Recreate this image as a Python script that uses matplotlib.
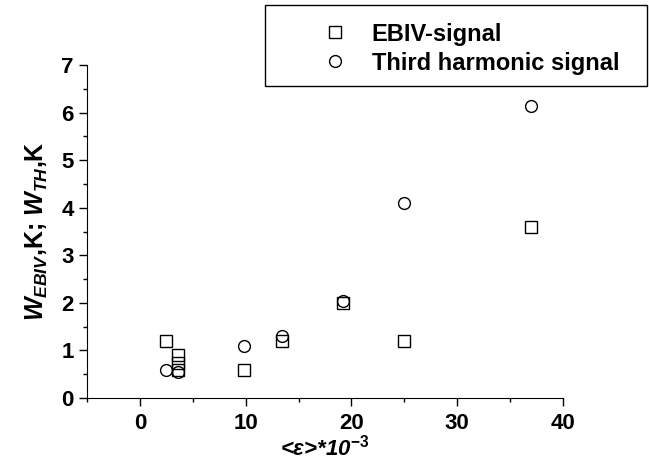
import matplotlib.pyplot as plt
from matplotlib.patches import Rectangle

plt.rcParams['font.family'] = 'Liberation Sans'
plt.rcParams['font.weight'] = 'bold'
plt.rcParams['mathtext.fontset'] = 'custom'
plt.rcParams['mathtext.rm'] = 'Liberation Sans:bold'
plt.rcParams['mathtext.it'] = 'Liberation Sans:bold:italic'
plt.rcParams['mathtext.bf'] = 'Liberation Sans:bold'
plt.rcParams['mathtext.default'] = 'it'

# EBIV-signal
x_ebiv = [2.5, 3.6, 3.6, 3.6, 9.8, 13.4, 19.2, 25.0, 37.0]
y_ebiv = [1.2, 0.9, 0.73, 0.58, 0.6, 1.2, 2.0, 1.2, 3.6]

# Third harmonic signal
x_th = [2.5, 3.6, 9.8, 13.4, 19.2, 25.0, 37.0]
y_th = [0.58, 0.55, 1.1, 1.3, 2.05, 4.1, 6.15]

x_ticks = [0, 10, 20, 30, 40]
y_ticks = [0, 1, 2, 3, 4, 5, 6, 7]

fig = plt.figure(figsize=(6.49, 4.65), dpi=100)
ax = fig.add_axes([0.134, 0.144, 0.7335, 0.716])

ax.plot(x_ebiv, y_ebiv, 's', mfc='none', mec='black', ms=8, mew=1,
        label='EBIV-signal')
ax.plot(x_th, y_th, 'o', mfc='none', mec='black', ms=8.5, mew=1,
        label='Third harmonic signal')

ax.set_xlim(-5, 40)
ax.set_ylim(0, 7)
ax.set_xticks(x_ticks)
ax.set_yticks(y_ticks)
ax.set_xticks([-5, 5, 15, 25, 35], minor=True)
ax.set_yticks([0.5 + i for i in range(7)], minor=True)
ax.tick_params(axis='both', which='major', direction='out', length=6,
               width=1, labelsize=16)
ax.tick_params(axis='both', which='minor', direction='out', length=3,
               width=1)
ax.tick_params(axis='x', pad=5)
for lbl in ax.get_xticklabels() + ax.get_yticklabels():
    lbl.set_fontweight('bold')

ax.spines['top'].set_visible(False)
ax.spines['right'].set_visible(False)

ax.set_xlabel('<ε>*10$^{-3}$', fontsize=16, fontstyle='italic',
              fontweight='bold', labelpad=0)
ax.set_ylabel(r'$W_{EBIV}$,K; $W_{TH}$,K', fontsize=18, fontweight='bold',
              labelpad=8)

# legend box sticks out past the axes
fig.patches.append(Rectangle((265 / 649, 1 - 86 / 465), 382 / 649, 81 / 465,
                             transform=fig.transFigure, fill=False,
                             edgecolor='black', lw=1))
fig.legend(loc='upper left', bbox_to_anchor=(0.447, 0.997), frameon=False,
           handletextpad=0.55, labelspacing=0.25,
           prop={'weight': 'bold', 'size': 17})

fig.savefig('out.png', dpi=100)
